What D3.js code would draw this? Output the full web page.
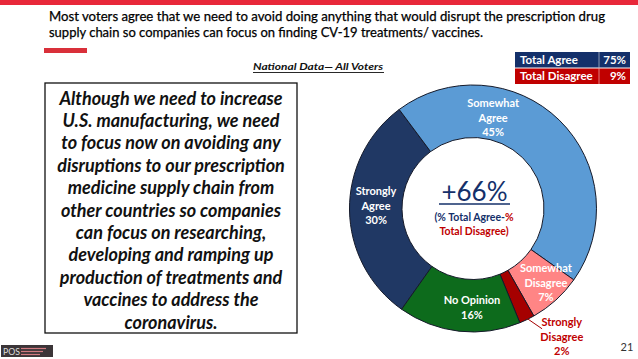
<!DOCTYPE html>
<html>
<head>
<meta charset="utf-8">
<script src="https://cdn.jsdelivr.net/npm/d3@7.9.0/dist/d3.min.js"></script>
<style>
  body { margin: 0; background: #fff; }
  svg { display: block; font-family: Lato, "Open Sans", sans-serif; }
</style>
</head>
<body>
<svg id="chart" width="638" height="359"></svg>
<script>
// survey responses, in the order they run round the ring
const categories = ['Strongly Agree', 'Somewhat Agree', 'Somewhat Disagree', 'Strongly Disagree', 'No Opinion'];
const shares = [30, 45, 7, 2, 16];
const sliceColors = ['#203864', '#5b9bd5', '#ff8585', '#a50000', '#0d6b1c'];

const totalLabels = ['Total Agree', 'Total Disagree'];
const totalValues = [75, 9];
const netValue = 66;

const titleLines = [
  'Most voters agree that we need to avoid doing anything that would disrupt the prescription drug',
  'supply chain so companies can focus on finding CV-19 treatments/ vaccines.',
];
const quoteLines = [
  'Although we need to increase',
  'U.S. manufacturing, we need',
  'to focus now on avoiding any',
  'disruptions to our prescription',
  'medicine supply chain from',
  'other countries so companies',
  'can focus on researching,',
  'developing and ramping up',
  'production of treatments and',
  'vaccines to address the',
  'coronavirus.',
];

const svg = d3.select('#chart');

// top band and title
svg.append('rect').attr('x', 0).attr('y', 0).attr('width', 638).attr('height', 5).attr('fill', '#e8283a');
svg.append('rect').attr('x', 44).attr('y', 48).attr('width', 43).attr('height', 5).attr('fill', '#d9303a');

const titleWidths = [556, 434];
titleLines.forEach((line, i) => {
  svg.append('text')
    .attr('x', 49)
    .attr('y', 21 + i * 15.5)
    .attr('font-size', 13)
    .attr('fill', '#000')
    .attr('stroke', '#000').attr('stroke-width', 0.25)
    .attr('textLength', titleWidths[i])
    .attr('lengthAdjust', 'spacingAndGlyphs')
    .text(line);
});

svg.append('text')
  .attr('x', 253).attr('y', 70)
  .attr('font-size', 10).attr('font-weight', 700).attr('font-style', 'italic')
  .attr('fill', '#111')
  .attr('textLength', 130).attr('lengthAdjust', 'spacingAndGlyphs')
  .text('National Data\u2014 All Voters');
svg.append('line').attr('x1', 253).attr('x2', 384).attr('y1', 72.5).attr('y2', 72.5)
  .attr('stroke', '#111').attr('stroke-width', 0.9);

// totals table
const rowScale = d3.scaleBand().domain(totalLabels).range([52, 84]).paddingInner(0.06);
const rowFill = ['#14306a', '#c00000'];
const rows = svg.append('g').selectAll('g').data(totalLabels).join('g');
rows.append('rect')
  .attr('x', 515).attr('width', 115)
  .attr('y', (d) => rowScale(d)).attr('height', rowScale.bandwidth())
  .attr('fill', (d, i) => rowFill[i]);
rows.append('line')
  .attr('x1', 599).attr('x2', 599)
  .attr('y1', (d) => rowScale(d)).attr('y2', (d) => rowScale(d) + rowScale.bandwidth())
  .attr('stroke', '#fff').attr('stroke-opacity', 0.5);
rows.append('text')
  .attr('x', 520).attr('y', (d) => rowScale(d) + rowScale.bandwidth() / 2 + 4)
  .attr('font-size', 11.5).attr('font-weight', 700).attr('fill', '#fff')
  .text((d) => d);
rows.append('text')
  .attr('x', 626).attr('y', (d) => rowScale(d) + rowScale.bandwidth() / 2 + 4)
  .attr('text-anchor', 'end')
  .attr('font-size', 11.5).attr('font-weight', 700).attr('fill', '#fff')
  .text((d, i) => `${totalValues[i]}%`);

// quote box
svg.append('rect').attr('x', 45).attr('y', 83).attr('width', 252).attr('height', 250)
  .attr('fill', '#fff').attr('stroke', '#111').attr('stroke-width', 1.3);
quoteLines.forEach((line, i) => {
  svg.append('text')
    .attr('x', 171).attr('y', 104.5 + i * 22.4)
    .attr('text-anchor', 'middle')
    .attr('font-size', 18).attr('font-weight', 700).attr('font-style', 'italic')
    .attr('fill', '#111')
    .text(line);
});

// donut
const cx = 473;
const cy = 208.5;
const rOuter = 123.5;
const rInner = 71;
const deg = Math.PI / 180;
const data = categories.map((c, i) => ({ label: c, value: shares[i], color: sliceColors[i] }));

const pie = d3.pie().sort(null).value((d) => d.value)
  .startAngle(-144.7 * deg).endAngle((360 - 144.7) * deg);
const arc = d3.arc().innerRadius(rInner).outerRadius(rOuter);
const ring = svg.append('g').attr('transform', `translate(${cx},${cy})`);
ring.selectAll('path').data(pie(data)).join('path')
  .attr('d', arc)
  .attr('fill', (d) => d.data.color)
  .attr('stroke', '#151a2a')
  .attr('stroke-width', 1);

// slice labels, placed by angle (deg clockwise from 12 o'clock) and radius
const labelPos = {
  'Somewhat Agree': { a: 12.5, r: 93, fill: '#fff', lines: ['Somewhat', 'Agree'] },
  'Strongly Agree': { a: 271.5, r: 97, fill: '#fff', lines: ['Strongly', 'Agree'] },
  'No Opinion': { a: 180.6, r: 99, fill: '#fff', lines: ['No Opinion'] },
  'Somewhat Disagree': { a: 135.5, r: 104, fill: '#fff', lines: ['Somewhat', 'Disagree'] },
  'Strongly Disagree': { a: 145.3, r: 156, fill: '#c00000', lines: ['Strongly', 'Disagree'] },
};
const lineH = 14.5;
data.forEach((d) => {
  const p = labelPos[d.label];
  const x = Math.sin(p.a * deg) * p.r;
  const y = -Math.cos(p.a * deg) * p.r;
  const all = [...p.lines, `${d.value}%`];
  const y0 = y - ((all.length - 1) * lineH) / 2 + 4;
  const t = ring.append('text')
    .attr('text-anchor', 'middle')
    .attr('font-size', 11).attr('font-weight', 700)
    .attr('fill', p.fill);
  all.forEach((s, k) => {
    t.append('tspan').attr('x', x).attr('y', y0 + k * lineH).text(s);
  });
});

// leader for the thin slice
const sd = pie(data).find((d) => d.data.label === 'Strongly Disagree');
const mid = (sd.startAngle + sd.endAngle) / 2;
ring.append('line')
  .attr('x1', Math.sin(mid) * (rOuter - 2)).attr('y1', -Math.cos(mid) * (rOuter - 2))
  .attr('x2', Math.sin(mid) * (rOuter - 2) + 16).attr('y2', -Math.cos(mid) * (rOuter - 2) + 11)
  .attr('stroke', '#a50000').attr('stroke-width', 1);

// net score in the hole
ring.append('text')
  .attr('x', 1.5).attr('y', -8)
  .attr('text-anchor', 'middle')
  .attr('font-size', 26).attr('fill', '#14306a')
  .text(`+${netValue}%`);
ring.append('line')
  .attr('x1', -34).attr('x2', 37).attr('y1', -4.5).attr('y2', -4.5)
  .attr('stroke', '#14306a').attr('stroke-width', 1.5);
const sub = ring.append('text')
  .attr('text-anchor', 'middle')
  .attr('font-size', 10.5).attr('font-weight', 700);
sub.append('tspan').attr('x', 1).attr('y', 12.5).attr('fill', '#14306a').text('(% Total Agree-');
sub.append('tspan').attr('fill', '#c00000').text('%');
sub.append('tspan').attr('x', 1).attr('y', 26).attr('fill', '#c00000').text('Total Disagree)');

// footer
svg.append('text').attr('x', 627).attr('y', 351).attr('text-anchor', 'middle')
  .attr('font-size', 11).attr('fill', '#333').text('21');
const logo = svg.append('g');
logo.append('rect').attr('x', 1).attr('y', 345).attr('width', 52).attr('height', 12).attr('fill', '#3b3538');
logo.append('text').attr('x', 3).attr('y', 355).attr('font-size', 10).attr('fill', '#ddd')
  .attr('textLength', 17).attr('lengthAdjust', 'spacingAndGlyphs').text('POS');
[348.5, 351.5, 354.5].forEach((y, i) => {
  logo.append('line').attr('x1', 21).attr('x2', 46 - i * 3).attr('y1', y).attr('y2', y)
    .attr('stroke', '#d07a80').attr('stroke-width', 1.2);
});
</script>
</body>
</html>
